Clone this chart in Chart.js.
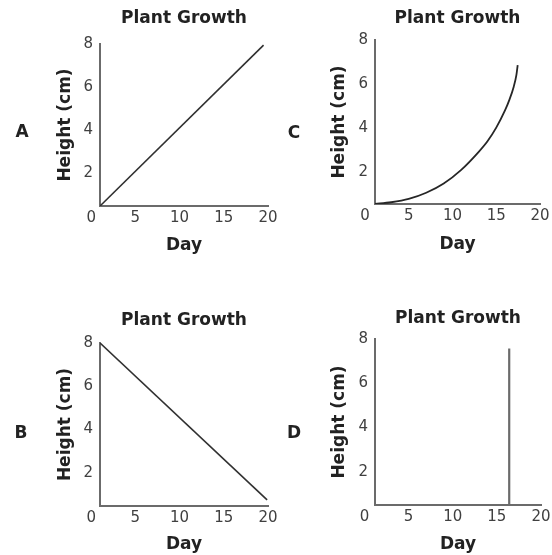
<!DOCTYPE html>
<html>
<head>
<meta charset="utf-8">
<script src="https://cdn.jsdelivr.net/npm/chart.js@4.4.1/dist/chart.umd.min.js"></script>
<style>
  html, body { margin: 0; padding: 0; background: #fff; overflow: hidden; }
  #page { position: relative; width: 552px; height: 555px; overflow: hidden; }
  #page canvas { position: absolute; }
  .letter { position: absolute; font: bold 17px "DejaVu Sans", sans-serif; color: #222; transform: translate(-50%, -50%); }
</style>
</head>
<body>
<div id="page"></div>
<script>
// shared axis labels
const dayTicks = [0, 5, 10, 15, 20];
const heightTicks = [2, 4, 6, 8];
const chartTitle = "Plant Growth";
const dayLabel = "Day";
const heightLabel = "Height (cm)";

// A: steady rise
const daysA = [1.0, 19.5];
const heightA = [0.45, 7.95];
// B: steady fall
const daysB = [1.0, 19.9];
const heightB = [8.0, 0.75];
// C: slow start, then faster
const daysC = [1.05, 3, 5, 7, 9, 11, 13, 14, 15, 16, 16.5, 17, 17.3, 17.45];
const heightC = [0.55, 0.63, 0.78, 1.06, 1.48, 2.1, 2.92, 3.4, 4.02, 4.8, 5.28, 5.88, 6.4, 6.86];
// D: nothing, then a jump
const daysD = [16.4, 16.4];
const heightD = [0.5, 7.57];

const TEXT = "#222";
const TICK = "#404040";
const AXIS = "#6b6b6b";
const boldFont = { family: "'DejaVu Sans', sans-serif", size: 17, weight: "bold" };
const tickFont = { family: "'DejaVu Sans', sans-serif", size: 15 };
const half = boldFont.size * 1.2 / 2;

const panels = [
  { letter: "A", days: daysA, heights: heightA, xMin: 1.0, yMin: 0.45, color: "#303030", width: 1.6, smooth: false,
    box: { left: 0, top: 0, width: 292, height: 280 }, area: { left: 100, top: 44, right: 268, bottom: 206 },
    titleY: 19, yTitleX: 66, xTitleY: 246, letterAt: [22, 131] },
  { letter: "C", days: daysC, heights: heightC, xMin: 1.15, yMin: 0.55, color: "#262626", width: 1.8, smooth: true,
    box: { left: 280, top: 0, width: 284, height: 280 }, area: { left: 375, top: 40, right: 540, bottom: 204 },
    titleY: 19, yTitleX: 340, xTitleY: 245, letterAt: [294, 132] },
  { letter: "B", days: daysB, heights: heightB, xMin: 1.0, yMin: 0.47, color: "#303030", width: 1.6, smooth: false,
    box: { left: 0, top: 280, width: 292, height: 300 }, area: { left: 100, top: 343, right: 268, bottom: 506 },
    titleY: 321, yTitleX: 66, xTitleY: 545, letterAt: [21, 432] },
  { letter: "D", days: daysD, heights: heightD, xMin: 1.2, yMin: 0.5, color: "#6b6b6b", width: 2.2, smooth: false,
    box: { left: 280, top: 280, width: 284, height: 300 }, area: { left: 375, top: 339, right: 541, bottom: 505 },
    titleY: 319, yTitleX: 340, xTitleY: 545, letterAt: [294, 432] }
];

const page = document.getElementById("page");

function buildPanel(p) {
  const canvas = document.createElement("canvas");
  canvas.width = p.box.width;
  canvas.height = p.box.height;
  canvas.style.left = p.box.left + "px";
  canvas.style.top = p.box.top + "px";
  page.appendChild(canvas);

  const tag = document.createElement("div");
  tag.className = "letter";
  tag.textContent = p.letter;
  tag.style.left = p.letterAt[0] + "px";
  tag.style.top = p.letterAt[1] + "px";
  page.appendChild(tag);

  const areaL = p.area.left - p.box.left;
  const areaT = p.area.top - p.box.top;
  const areaR = p.area.right - p.box.left;
  const areaB = p.area.bottom - p.box.top;
  const xAxisH = p.xTitleY - p.area.bottom + half;
  const titleTop = p.titleY - p.box.top - half;

  new Chart(canvas, {
    type: "line",
    data: {
      datasets: [{
        data: p.days.map((d, i) => ({ x: d, y: p.heights[i] })),
        borderColor: p.color,
        borderWidth: p.width,
        pointRadius: 0,
        fill: false,
        tension: p.smooth ? 0.4 : 0,
        cubicInterpolationMode: p.smooth ? "monotone" : "default"
      }]
    },
    options: {
      responsive: false,
      animation: false,
      devicePixelRatio: 1,
      events: [],
      layout: { padding: { left: 0, top: 0, right: p.box.width - areaR, bottom: Math.max(0, p.box.height - areaB - xAxisH) } },
      plugins: {
        legend: { display: false },
        tooltip: { enabled: false },
        title: {
          display: true, text: chartTitle, fullSize: false, color: TEXT, font: boldFont,
          padding: { top: titleTop, bottom: areaT - titleTop - 2 * half }
        }
      },
      scales: {
        x: {
          type: "linear", min: p.xMin, max: 20,
          grid: { display: false, drawTicks: false },
          border: { display: true, color: AXIS, width: 2 },
          ticks: { padding: 3, autoSkip: false, maxRotation: 0, color: TICK, font: tickFont },
          title: { display: true, text: dayLabel, color: TEXT, font: boldFont, padding: { top: 0, bottom: 0 } },
          afterBuildTicks: s => { s.ticks = dayTicks.map(v => ({ value: v })); },
          afterFit: s => { s.height = xAxisH; s.paddingLeft = 0; s.paddingRight = 0; }
        },
        y: {
          type: "linear", min: p.yMin, max: 8,
          grid: { display: false, drawTicks: false },
          border: { display: true, color: AXIS, width: 2 },
          ticks: { padding: 7, color: TICK, font: tickFont },
          title: { display: true, text: heightLabel, color: TEXT, font: boldFont, padding: { top: p.yTitleX - p.box.left - half, bottom: 0 } },
          afterBuildTicks: s => { s.ticks = heightTicks.map(v => ({ value: v })); },
          afterFit: s => { s.width = areaL; s.paddingTop = 0; s.paddingBottom = 0; }
        }
      }
    }
  });
}

panels.forEach(buildPanel);
</script>
</body>
</html>
